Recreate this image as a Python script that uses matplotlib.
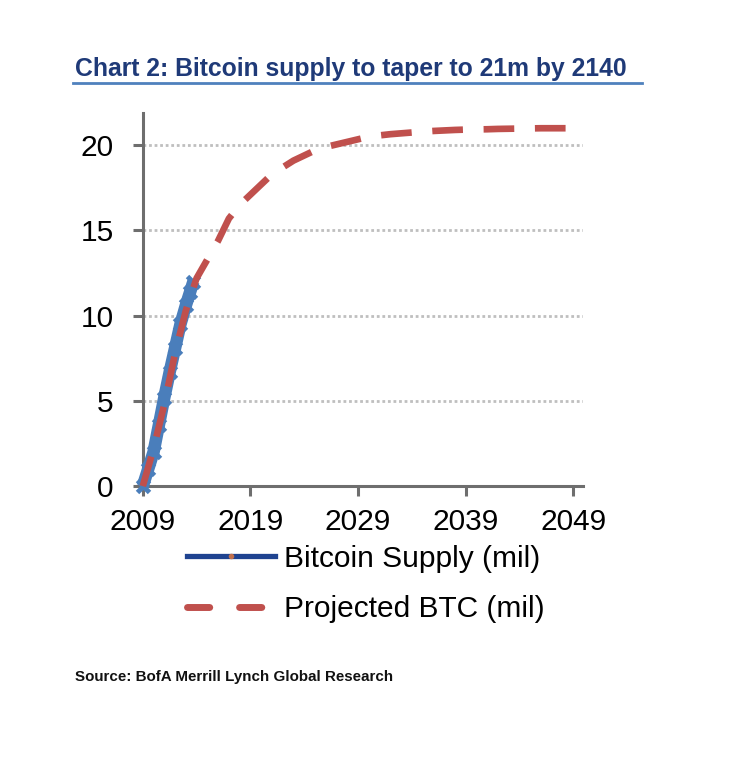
"""
Chart 2: Bitcoin supply to taper to 21m by 2140
"""
import matplotlib
matplotlib.use("Agg")
import matplotlib.pyplot as plt
from matplotlib.lines import Line2D

supply_years = [2009.0, 2009.5, 2010.0, 2010.5, 2011.0, 2011.5, 2012.0,
                2012.5, 2013.0, 2013.4, 2013.7]
supply_vals = [0.0, 1.0, 2.0, 3.6, 5.2, 6.7, 8.1, 9.5, 10.6, 11.4, 12.0]

# projection (mil)
proj_years = list(range(2009, 2050))
proj_vals = [0.0, 2.2, 4.8, 7.8, 10.3, 12.2, 13.3, 14.4, 15.7, 16.5,
             17.1, 17.7, 18.3, 18.7, 19.1, 19.4, 19.7, 19.9, 20.05, 20.2,
             20.35, 20.5, 20.58, 20.65, 20.7, 20.75, 20.8, 20.84, 20.87, 20.9,
             20.92, 20.93, 20.94, 20.96, 20.97, 20.98, 20.99, 21.0, 21.0, 21.0,
             21.0]

x_ticks = [2009, 2019, 2029, 2039, 2049]
y_ticks = [0, 5, 10, 15, 20]

BLUE = "#4A7EBB"
DARK_BLUE = "#1F4390"
RED = "#C0504D"
NAVY = "#1F3A78"

plt.rcParams["font.family"] = ["Liberation Sans", "DejaVu Sans"]

fig = plt.figure(figsize=(7.36, 7.68), dpi=100)
ax = fig.add_axes([0.194, 0.367, 0.598, 0.486])

# gridlines first
for v in y_ticks[1:]:
    ax.axhline(v, color="#BFBFBF", lw=2, ls=(0, (1, 1)), zorder=1)

ax.plot(supply_years, supply_vals, color=BLUE, lw=9, solid_capstyle="butt",
        marker="x", markersize=8, mew=3.5, clip_on=False, zorder=3)
ax.plot(proj_years, proj_vals, color=RED, lw=4.8, dashes=(4.6, 3.1),
        dash_capstyle="butt", clip_on=False, zorder=4)

ax.set_xlim(2009, 2049.9)
ax.set_ylim(0, 21.9)
ax.set_xticks(x_ticks)
ax.set_yticks(y_ticks)

for side in ["top", "right"]:
    ax.spines[side].set_visible(False)
for side in ["left", "bottom"]:
    ax.spines[side].set_color("#6E6E6E")
    ax.spines[side].set_linewidth(2.2)

ax.tick_params(axis="y", direction="out", length=7, width=2.2, color="#6E6E6E",
               labelsize=21.5, pad=14)
ax.tick_params(axis="x", direction="out", length=7, width=2.2, color="#6E6E6E",
               labelsize=21.5, pad=9)

# legend
h1 = Line2D([], [], color=DARK_BLUE, lw=3.8, marker="o", markersize=3,
            markerfacecolor="#C0704D", markeredgecolor="#C0704D")
h2 = Line2D([], [], color=RED, lw=5, dashes=(3.2, 4.3), dash_capstyle="round")
fig.legend([h1, h2], ["Bitcoin Supply (mil)", "Projected BTC (mil)"],
           loc="upper left", bbox_to_anchor=(0.238, 0.306), frameon=False,
           fontsize=21.5, handlelength=2.95, handletextpad=0.3,
           labelspacing=0.75, borderaxespad=0)

# title with underline
fig.text(0.102, 0.901, "Chart 2: Bitcoin supply to taper to 21m by 2140",
         fontsize=17.8, fontweight="bold", color=NAVY,
         family=["Liberation Sans Narrow", "Liberation Sans", "DejaVu Sans"],
         va="baseline")
fig.add_artist(Line2D([0.099, 0.872], [0.892, 0.892], color="#4F81BD", lw=2))

fig.text(0.102, 0.113, "Source: BofA Merrill Lynch Global Research",
         fontsize=10.9, fontweight="bold", color="#111111",
         family=["Liberation Sans Narrow", "Liberation Sans", "DejaVu Sans"],
         va="baseline")

fig.savefig("out.png", dpi=100, facecolor="white")
